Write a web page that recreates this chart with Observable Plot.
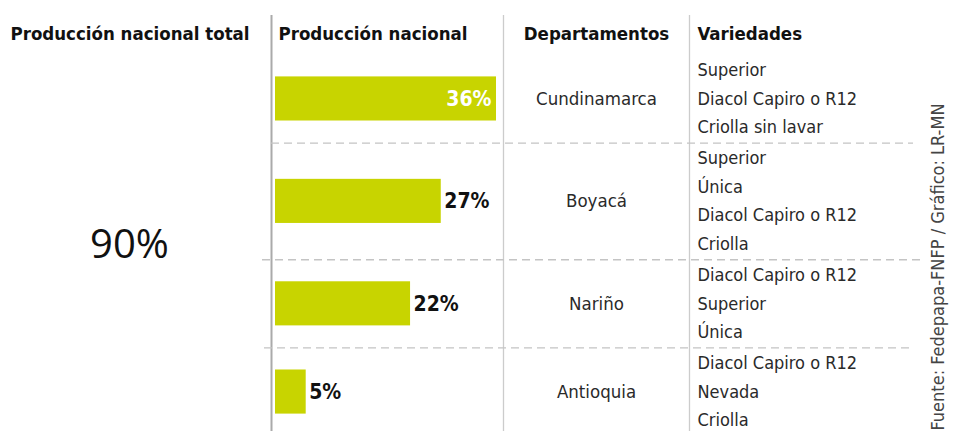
<!DOCTYPE html>
<html><head><meta charset="utf-8">
<script src="https://cdn.jsdelivr.net/npm/d3@7"></script>
<script src="https://cdn.jsdelivr.net/npm/@observablehq/plot@0.6"></script>
<style>body{margin:0;background:#fff} svg{display:block;overflow:hidden}</style>
</head><body><div id="chart"></div>
<script>
// ---- data ----
const departamentos = ["Cundinamarca", "Boyacá", "Nariño", "Antioquia"];
const produccion = [36, 27, 22, 5];
const variedades = [
  ["Superior", "Diacol Capiro o R12", "Criolla sin lavar"],
  ["Superior", "Única", "Diacol Capiro o R12", "Criolla"],
  ["Diacol Capiro o R12", "Superior", "Única"],
  ["Diacol Capiro o R12", "Nevada", "Criolla"]
];
const totalNacional = 90;
const encabezados = ["Producción nacional total", "Producción nacional", "Departamentos", "Variedades"];
const fuente = "Fuente: Fedepapa-FNFP / Gráfico: LR-MN";

// ---- layout (pixels) ----
const W = 958, H = 431;
const GAP = 0.1, BAR_H = 1.55;
const COND = "'Liberation Sans Narrow', 'DejaVu Sans Condensed', 'Arial Narrow', sans-serif";
const xMax = d3.max(produccion);
const X0 = 275, X1 = 496;
const toX = px => (px - X0) * xMax / (X1 - X0);

// rows
let acc = 0;
const rows = departamentos.map((dep, i) => {
  const start = acc + i * GAP;
  const n = variedades[i].length;
  acc += n;
  return {dep, value: produccion[i], start, n, mid: start + (n - 1) / 2, isMax: produccion[i] === xMax};
});
const lines = rows.flatMap((r, i) => variedades[i].map((v, j) => ({v, y: r.start + j})));
const lastY = d3.max(lines, d => d.y);
const sepExt = [[271, 913], [262, 920], [264, 910]];
const seps = rows.slice(1).map((r, i) => ({
  y: (rows[i].start + rows[i].n - 1 + r.start) / 2,
  x1: toX(sepExt[i][0]), x2: toX(sepExt[i][1])
}));
const headerPos = [{px: 10, a: "start"}, {px: 278, a: "start"}, {px: 596, a: "middle"}, {px: 697, a: "start"}];
const headers = encabezados.map((t, i) => ({t, ...headerPos[i]}));
const headerStyle = {x: d => toX(d.px), frameAnchor: "top", dy: 26, text: "t",
  fill: "#111", fontSize: 18.5, fontWeight: "bold", fontFamily: COND};

const chart = Plot.plot({
  width: W, height: H,
  margin: 0,
  x: {domain: [0, xMax], range: [X0, X1], axis: null},
  y: {domain: [0, lastY], range: [70, 420], axis: null},
  marks: [
    Plot.ruleX([toX(271)], {x: d => d, insetTop: 15, stroke: "#aaa", strokeWidth: 2}),
    Plot.ruleX([toX(503), toX(689)], {x: d => d, insetTop: 15, stroke: "#ccc", strokeWidth: 1.3}),
    Plot.ruleY(seps, {y: "y", x1: "x1", x2: "x2", stroke: "#c4c4c4", strokeWidth: 1.3, strokeDasharray: "8,5"}),
    Plot.rect(rows, {x1: 0, x2: "value", y1: d => d.mid - BAR_H / 2, y2: d => d.mid + BAR_H / 2, fill: "#c8d400"}),
    Plot.text(rows.filter(d => d.isMax), {x: "value", y: "mid", text: d => d.value + "%", textAnchor: "end", dx: -5,
      fill: "white", fontWeight: "bold", fontSize: 21, fontFamily: COND}),
    Plot.text(rows.filter(d => !d.isMax), {x: "value", y: "mid", text: d => d.value + "%", textAnchor: "start", dx: 3,
      fill: "#111", fontWeight: "bold", fontSize: 21, fontFamily: COND}),
    Plot.text(rows, {x: toX(596), y: "mid", text: "dep", textAnchor: "middle", fill: "#2a2a2a", fontSize: 18.5, fontFamily: COND}),
    Plot.text(lines, {x: toX(697), y: "y", text: "v", textAnchor: "start", fill: "#2a2a2a", fontSize: 18, fontFamily: COND}),
    Plot.text(headers.filter(d => d.a === "start"), {...headerStyle, textAnchor: "start"}),
    Plot.text(headers.filter(d => d.a === "middle"), {...headerStyle, textAnchor: "middle"}),
    Plot.text([totalNacional], {x: toX(129), y: lastY / 2, text: d => d + "%", textAnchor: "middle",
      fill: "#111", fontSize: 40, fontFamily: "'Open Sans', sans-serif"}),
    Plot.text([fuente], {frameAnchor: "bottom-right", dx: -15, dy: -1, rotate: -90, textAnchor: "start",
      text: d => d, fill: "#444", fontSize: 18, fontFamily: COND})
  ]
});
document.getElementById("chart").append(chart);
</script>
</body></html>
